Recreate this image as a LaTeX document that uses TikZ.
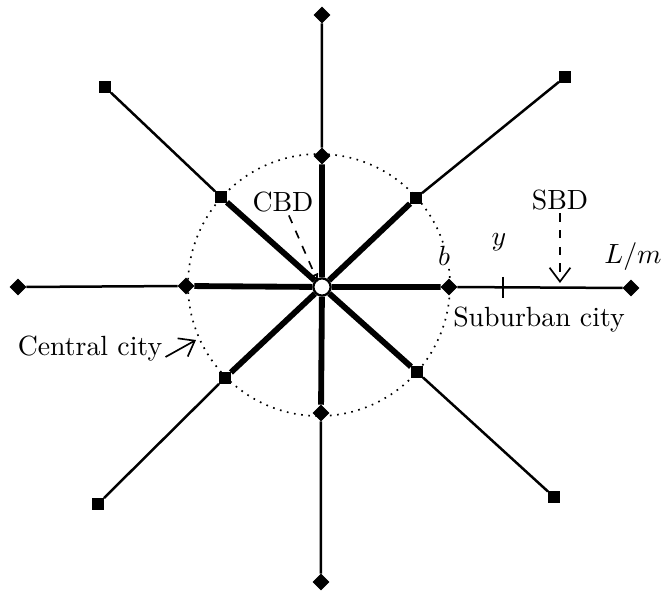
\documentclass[tikz,border=0pt]{standalone}
\usepackage{amsmath,amssymb}
\usepackage{tikz}
\usetikzlibrary{arrows.meta,positioning,calc,shapes.geometric}

\begin{document}
\begin{tikzpicture}[x=0.36pt,y=0.36pt,>=Latex,
  dia/.style={draw,fill=black,diamond,minimum size=5.6pt,inner sep=0pt},
  sq/.style={draw,fill=black,rectangle,minimum size=3.9pt,inner sep=0pt},
  hub/.style={draw,fill=white,circle,line width=0.8pt,minimum size=6.2pt,inner sep=0pt},
  inner/.style={line width=2.1pt},
  outer/.style={line width=0.9pt},
  lab/.style={inner sep=1pt,align=center}]
\useasboundingbox (-322,-309) rectangle (342,287);
\draw[dotted,line width=0.6pt] (-3,2) circle (131);
% nodes on the rays
\node (c) [hub] at (0,0) {};
\node (n1) [dia] at (0,131) {};
\node (n2) [dia] at (0,272) {};
\node (s1) [dia] at (-1,-126) {};
\node (s2) [dia] at (-1,-295) {};
\node (w1) [dia] at (-136,1) {};
\node (w2) [dia] at (-304,0) {};
\node (e1) [dia] at (127,0) {};
\node (e2) [dia] at (309,-1) {};
\node (nw1) [sq] at (-101,90) {};
\node (nw2) [sq] at (-217,200) {};
\node (ne1) [sq] at (94,89) {};
\node (ne2) [sq] at (243,210) {};
\node (sw1) [sq] at (-97,-91) {};
\node (sw2) [sq] at (-224,-217) {};
\node (se1) [sq] at (95,-85) {};
\node (se2) [sq] at (232,-210) {};
\draw[inner] (c) -- (n1) (c) -- (s1) (c) -- (w1) (c) -- (e1);
\draw[inner] (c) -- (nw1) (c) -- (ne1) (c) -- (sw1) (c) -- (se1);
\draw[outer] (n1) -- (n2) (s1) -- (s2) (w1) -- (w2) (e1) -- (e2);
\draw[outer] (nw1) -- (nw2) (ne1) -- (ne2) (sw1) -- (sw2) (se1) -- (se2);
% labels
\node (cbd) [lab] at (-39,85) {CBD};
\node (sbd) [lab] at (238,87) {SBD};
\node (b) [lab,fill=white] at (122,31) {$b$};
\node (y) [lab] at (177,45) {$y$};
\node (lm) [lab] at (311,30) {$L/m$};
\node (sub) [lab] at (217,-33) {Suburban city};
\node (cen) [lab] at (-232,-62) {Central city};
\coordinate (t1) at (181,10);
\coordinate (t2) at (181,-11);
\coordinate (cbdtip) at (-4,5);
\coordinate (sbdtip) at (238,4);
\coordinate (centip) at (-126,-53);
\draw[outer] (t1) -- (t2);
\draw[dashed,line width=0.6pt,-{Latex[open,length=3pt,width=3pt]}] (cbd) -- (cbdtip);
\draw[dashed,line width=0.6pt,-{Straight Barb[length=5pt,width=7.5pt]}] (sbd) -- (sbdtip);
\draw[line width=0.6pt,-{Straight Barb[length=5pt,width=7.5pt]}] ($(cen.east)+(0,-8)$) -- (centip);
\end{tikzpicture}
\end{document}
